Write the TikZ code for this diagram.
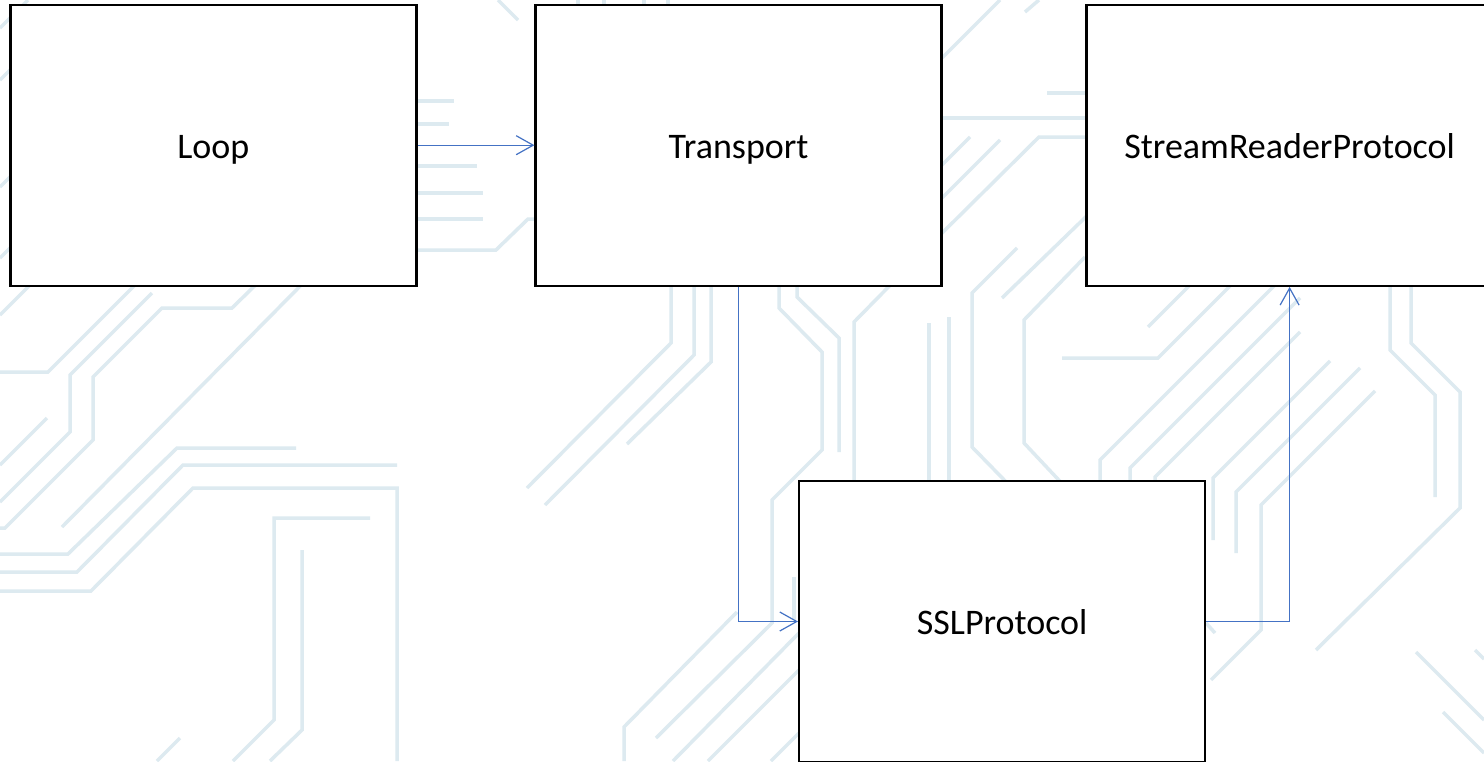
\documentclass[tikz,border=0pt]{standalone}
\usepackage{fontspec}
\setmainfont{Carlito}
\usetikzlibrary{arrows.meta}
\definecolor{bgc}{RGB}{221,234,240}
\definecolor{arrowblue}{RGB}{68,114,196}
\begin{document}
\begin{tikzpicture}[x=1pt,y=-1pt,
  bgline/.style={draw=bgc,line width=3.5pt},
  box/.style={draw=black,fill=white,line width=2.4pt,minimum width=406pt,minimum height=281pt,inner sep=0pt,text height=25.6pt,text depth=0pt,font=\fontsize{36}{43}\selectfont},
  conn/.style={draw=arrowblue,line width=1.2pt,-{Straight Barb[length=17pt,width=19pt,line width=1.2pt]}}]
\useasboundingbox (0,0) rectangle (1484,761);
\clip (0,0) rectangle (1484,761);
\fill[white] (0,0) rectangle (1484,761);
% background circuit pattern
\begin{scope}[bgline]
\draw (0,28)--(28,0);
\draw (0,80)--(40,40);
\draw (0,187)--(40,147);
\draw (0,258)--(40,218);
\draw (0,315)--(60,255);
\draw (0,372)--(48,372)--(150,270);
\draw (152,293)--(70,375)--(70,432)--(0,502);
\draw (275,266)--(232,308)--(162,308)--(93,377)--(93,440)--(5,528)--(0,528);
\draw (320,266)--(62,527);
\draw (47,418)--(0,465);
\draw (0,554)--(68,554)--(177,448)--(296,448);
\draw (0,572)--(77,572)--(183,465)--(397,465);
\draw (0,591)--(91,591)--(193,488)--(397,488)--(397,761);
\draw (370,518)--(274,518)--(274,720)--(233,761);
\draw (302,550)--(302,730)--(270,761);
\draw (180,738)--(157,761);
\draw (400,101)--(454,101);
\draw (400,124)--(449,124);
\draw (400,166)--(477,166);
\draw (400,193)--(483,193);
\draw (400,219)--(483,219);
\draw (400,250)--(496,250)--(528,219)--(550,219);
\draw (498,0)--(518,20);
\draw (578,0)--(578,50);
\draw (604,0)--(604,50);
\draw (644,0)--(644,50);
\draw (668,0)--(668,50);
\draw (671,270)--(671,343)--(527,488);
\draw (694,270)--(694,355)--(545,505);
\draw (711,270)--(711,362)--(627,444);
\draw (779,270)--(779,308)--(822,352)--(822,450)--(772,500)--(772,623)--(656,738);
\draw (797,270)--(797,297)--(839,338)--(839,452);
\draw (910,265)--(854,322)--(854,490);
\draw (929,323)--(929,490);
\draw (949,317)--(949,490);
\draw (1017,248)--(972,293)--(972,447)--(1015,491);
\draw (1085,257)--(1024,320)--(1024,443)--(1070,492);
\draw (1002,298)--(1095,208);
\draw (1062,358)--(1158,358)--(1240,276);
\draw (930,70)--(1000,0);
\draw (1025,12)--(1039,0);
\draw (930,118)--(1095,118);
\draw (1047,93)--(1095,93);
\draw (1095,137)--(1039,137)--(930,245);
\draw (970,137)--(930,177);
\draw (1000,140)--(930,210);
\draw (737,612)--(624,727)--(624,761);
\draw (799,633)--(673,761);
\draw (799,670)--(708,761);
\draw (799,733)--(771,761);
\draw (794,577)--(794,620);
\draw (1100,490)--(1100,460)--(1277,283);
\draw (1130,490)--(1130,468)--(1300,298);
\draw (1155,490)--(1155,477)--(1300,332);
\draw (1213,540)--(1213,478)--(1330,361);
\draw (1236,553)--(1236,492)--(1360,368);
\draw (1211,680)--(1261,630)--(1261,505)--(1375,391);
\draw (1206,623)--(1215,633);
\draw (1148,327)--(1195,280);
\draw (1390,270)--(1390,350)--(1435,395)--(1435,497);
\draw (1411,270)--(1411,343)--(1460,392)--(1460,508)--(1316,650);
\draw (1416,652)--(1484,720);
\draw (1443,712)--(1484,753);
\draw (1475,650)--(1484,659);
\end{scope}
% boxes
\node[box] (loop) at (213.3,145.2) {Loop};
\node[box] (transport) at (738.6,145.2) {Transport};
\node[box] (stream) at (1289.6,145.2) {StreamReaderProtocol};
\node[box] (ssl) at (1002.2,621.5) {SSLProtocol};
% connectors
\draw[conn] (loop.east) -- (transport.west);
\draw[conn] (transport.south) |- (ssl.west);
\draw[conn] (ssl.east) -| (stream.south);
\end{tikzpicture}
\end{document}
